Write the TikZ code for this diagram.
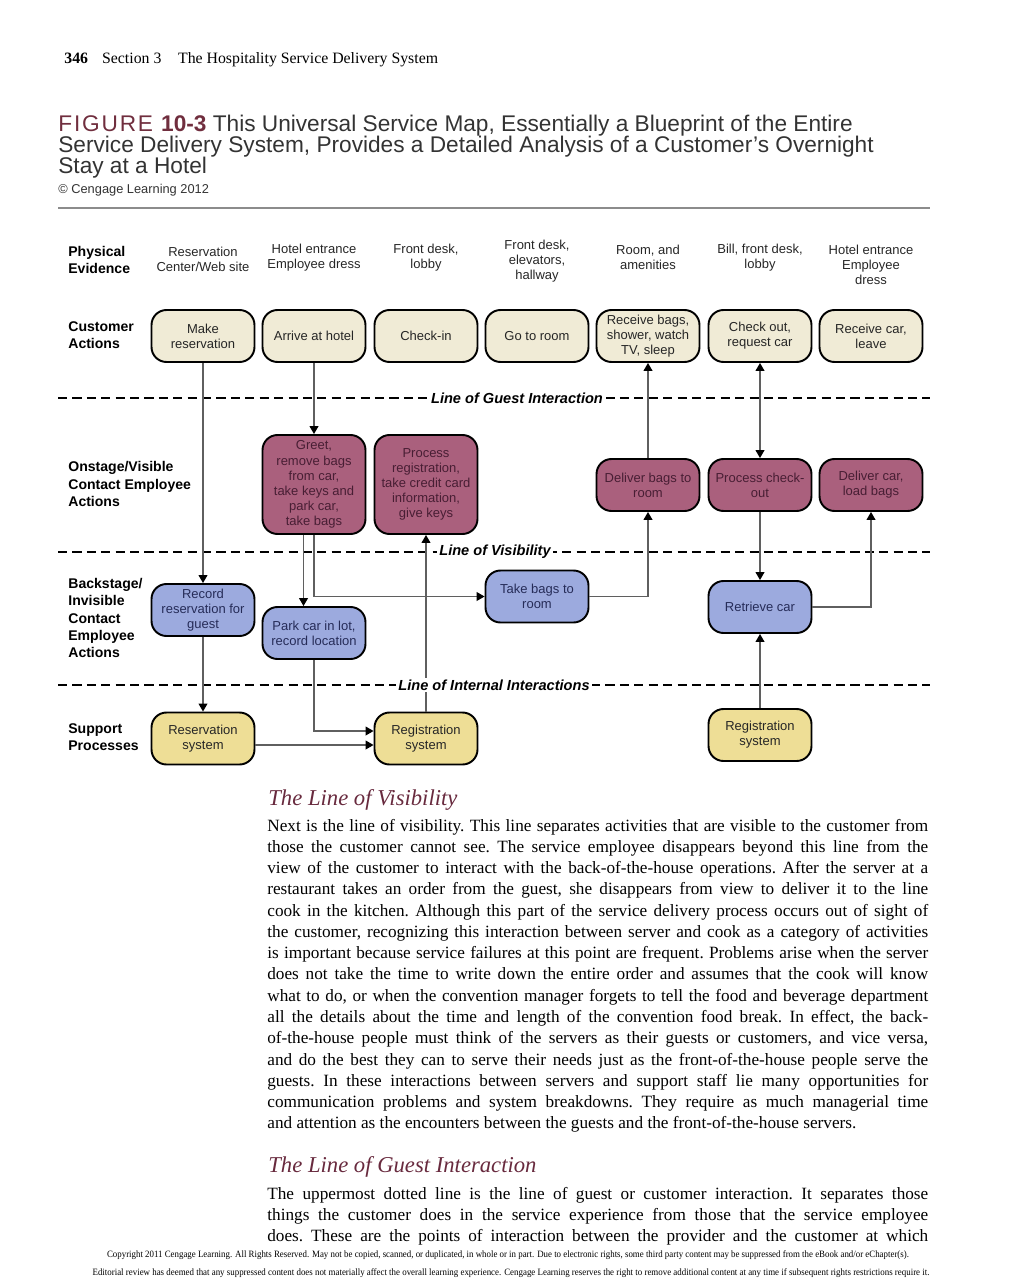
\documentclass[tikz,border=0pt]{standalone}
\usepackage{fontspec}
\setmainfont{Liberation Serif}
\setsansfont{Liberation Sans}
\usepackage{xcolor}
\usepackage{graphicx}
\usetikzlibrary{arrows.meta,positioning}
\definecolor{custcream}{RGB}{240,235,214}
\definecolor{onmauve}{RGB}{170,96,125}
\definecolor{backblue}{RGB}{156,170,222}
\definecolor{suppyellow}{RGB}{238,222,150}
\definecolor{headmaroon}{RGB}{104,42,62}
\definecolor{figmaroon}{RGB}{112,46,62}
\definecolor{linegray}{RGB}{95,95,95}
\definecolor{ontext}{RGB}{72,30,52}
\definecolor{backtext}{RGB}{38,44,88}

\begin{document}
\begin{tikzpicture}[
        x=0.02cm, y=-0.02cm,
        font=\sffamily,
        box/.style={rectangle, rounded corners=0.3cm, draw=black, line width=1.1pt, fill=#1, align=center, inner sep=1pt, minimum width=2.06cm, minimum height=1.04cm, font=\sffamily\fontsize{7.4}{8.6}\selectfont, text=black!85},
        tallbox/.style={box=#1, minimum height=1.98cm},
        rowlabel/.style={anchor=west, align=left, inner sep=0pt, font=\sffamily\bfseries\fontsize{8}{9.7}\selectfont},
        evidence/.style={align=center, inner sep=0pt, font=\sffamily\fontsize{7.4}{8.6}\selectfont, text=black!85},
        sepline/.style={dash pattern=on 5.2pt off 3pt, line width=0.85pt},
        seplabel/.style={fill=white, inner xsep=1.5pt, inner ysep=1pt, font=\sffamily\bfseries\itshape\fontsize{8.3}{10}\selectfont},
        arrow/.style={-{Triangle[length=4.5pt, width=5pt, color=black]}, line width=0.7pt, draw=linegray},
        dblarrow/.style={{Triangle[length=4.5pt, width=5pt, color=black]}-{Triangle[length=4.5pt, width=5pt, color=black]}, line width=0.7pt, draw=linegray},
        caption/.style={anchor=base west, inner sep=0pt, font=\sffamily\fontsize{12.9}{12}\selectfont, text=black!80},
        bodytext/.style={anchor=base west, inner sep=0pt, text width=13.22cm, align=justify, font=\rmfamily\fontsize{9.8}{12.11}\selectfont\frenchspacing},
        subhead/.style={anchor=base west, inner sep=0pt, font=\rmfamily\itshape\fontsize{12.9}{14}\selectfont, text=headmaroon},
        smallprint/.style={inner sep=0pt, font=\rmfamily\fontsize{5.5}{6}\selectfont}
    ]
        \useasboundingbox (0,0) rectangle (1024,1280);

        % running head and figure caption
        \node[anchor=base west, inner sep=0pt, font=\rmfamily\fontsize{9}{11}\selectfont] (runhead) at (64,64) {\textbf{346}\hspace{8pt}Section 3\hspace{9.5pt}The Hospitality Service Delivery System};
        \node[caption] (cap1) at (58,132) {\textcolor{figmaroon}{{\addfontfeature{LetterSpace=8}FIGURE} \textbf{10-3}} This Universal Service Map, Essentially a Blueprint of the Entire};
        \node[caption] (cap2) at (58,153) {Service Delivery System, Provides a Detailed Analysis of a Customer’s Overnight};
        \node[caption] (cap3) at (58,174) {Stay at a Hotel};
        \node[anchor=base west, inner sep=0pt, font=\sffamily\fontsize{7.3}{9}\selectfont, text=black!80] (credit) at (58,194) {© Cengage Learning 2012};
        \draw[black!45, line width=1.2pt] (58,208) -- (930,208);

        % row labels
        \node[rowlabel] (lphys) at (68,259.5) {Physical\\Evidence};
        \node[rowlabel] (lcust) at (68,335.5) {Customer\\Actions};
        \node[rowlabel] (lon) at (68,484) {Onstage/Visible\\Contact Employee\\Actions};
        \node[rowlabel] (lback) at (68,618) {Backstage/\\Invisible\\Contact\\Employee\\Actions};
        \node[rowlabel] (lsupp) at (68,737.5) {Support\\Processes};

        % physical evidence
        \node[evidence] (ev1) at (203,259.5) {Reservation\\Center/Web site};
        \node[evidence] (ev2) at (314,257.5) {Hotel entrance\\Employee dress};
        \node[evidence] (ev3) at (426,257.5) {Front desk,\\lobby};
        \node[evidence] (ev4) at (537,261) {Front desk,\\elevators,\\hallway};
        \node[evidence] (ev5) at (648,257.5) {Room, and\\amenities};
        \node[evidence] (ev6) at (760,257.5) {Bill, front desk,\\lobby};
        \node[evidence] (ev7) at (871,265) {Hotel entrance\\Employee\\dress};

        % customer actions
        \node[box=custcream] (make) at (203,336) {Make\\reservation};
        \node[box=custcream] (arrive) at (314,336) {Arrive at hotel};
        \node[box=custcream] (checkin) at (426,336) {Check-in};
        \node[box=custcream] (goroom) at (537,336) {Go to room};
        \node[box=custcream] (receive) at (648,336) {Receive bags,\\shower, watch\\TV, sleep};
        \node[box=custcream] (checkout) at (760,336) {Check out,\\request car};
        \node[box=custcream] (leave) at (871,336) {Receive car,\\leave};

        % onstage
        \node[tallbox=onmauve, text=ontext] (greet) at (314,484.5) {Greet,\\remove bags\\from car,\\take keys and\\park car,\\take bags};
        \node[tallbox=onmauve, text=ontext] (procreg) at (426,484.5) {Process\\registration,\\take credit card\\information,\\give keys};
        \node[box=onmauve, text=ontext] (deliver) at (648,485) {Deliver bags to\\room};
        \node[box=onmauve, text=ontext] (proccheck) at (760,485) {Process check-\\out};
        \node[box=onmauve, text=ontext] (delcar) at (871,485) {Deliver car,\\load bags};

        % backstage
        \node[box=backblue, text=backtext] (record) at (203,610) {Record\\reservation for\\guest};
        \node[box=backblue, text=backtext] (park) at (314,633) {Park car in lot,\\record location};
        \node[box=backblue, text=backtext] (takebags) at (537,596.5) {Take bags to\\room};
        \node[box=backblue, text=backtext] (retrieve) at (760,607) {Retrieve car};

        % support
        \node[box=suppyellow] (ressys) at (203,738.5) {Reservation\\system};
        \node[box=suppyellow] (regsys) at (426,738.5) {Registration\\system};
        \node[box=suppyellow] (regsys2) at (760,735) {Registration\\system};

        % dividing lines
        \draw[sepline] (58,398) -- (930,398);
        \draw[sepline] (58,552) -- (930,552);
        \draw[sepline] (58,685) -- (930,685);

        % flows
        \draw[arrow] (make) -- (record);
        \draw[arrow] (record) -- (ressys);
        \draw[arrow] (arrive) -- (greet);
        \draw[arrow] ([xshift=-0.21cm]greet.south) -- ([xshift=-0.21cm]park.north);
        \draw[arrow] (greet.south) |- (takebags.west);
        \draw[arrow] (park.south) |- ([yshift=0.15cm]regsys.west);
        \draw[arrow] ([yshift=-0.13cm]ressys.east) -- ([yshift=-0.13cm]regsys.west);
        \draw[arrow] (regsys) -- (procreg);
        \draw[arrow] (takebags.east) -| (deliver.south);
        \draw[arrow] (deliver) -- (receive);
        \draw[dblarrow] (checkout) -- (proccheck);
        \draw[arrow] (proccheck) -- (retrieve);
        \draw[arrow] (retrieve.east) -| (delcar.south);
        \draw[arrow] (regsys2) -- (retrieve);

        \node[seplabel] (guestline) at (517,398) {Line of Guest Interaction};
        \node[seplabel] (visline) at (495,552) {Line of Visibility};
        \node[seplabel] (intline) at (494,685) {Line of Internal Interactions};

        % running text
        \node[subhead] (vishead) at (268,805) {The Line of Visibility};
        \node[bodytext] (vistext) at (267,831) {%
Next is the line of visibility. This line separates activities that are visible to the customer from\linebreak
those the customer cannot see. The service employee disappears beyond this line from the\linebreak
view of the customer to interact with the back-of-the-house operations. After the server at a\linebreak
restaurant takes an order from the guest, she disappears from view to deliver it to the line\linebreak
cook in the kitchen. Although this part of the service delivery process occurs out of sight of\linebreak
the customer, recognizing this interaction between server and cook as a category of activities\linebreak
is important because service failures at this point are frequent. Problems arise when the server\linebreak
does not take the time to write down the entire order and assumes that the cook will know\linebreak
what to do, or when the convention manager forgets to tell the food and beverage department\linebreak
all the details about the time and length of the convention food break. In effect, the back-\linebreak
of-the-house people must think of the servers as their guests or customers, and vice versa,\linebreak
and do the best they can to serve their needs just as the front-of-the-house people serve the\linebreak
guests. In these interactions between servers and support staff lie many opportunities for\linebreak
communication problems and system breakdowns. They require as much managerial time\linebreak
and attention as the encounters between the guests and the front-of-the-house servers.};
        \node[subhead] (guesthead) at (268,1172) {The Line of Guest Interaction};
        \node[bodytext] (guesttext) at (267,1199) {%
The uppermost dotted line is the line of guest or customer interaction. It separates those\linebreak
things the customer does in the service experience from those that the service employee\linebreak
does. These are the points of interaction between the provider and the customer at which\linebreak};

        % footer
        \node[smallprint] (foot1) at (508,1255) {\resizebox{16.04cm}{\height}{Copyright 2011 Cengage Learning. All Rights Reserved. May not be copied, scanned, or duplicated, in whole or in part. Due to electronic rights, some third party content may be suppressed from the eBook and/or eChapter(s).}};
        \node[smallprint] (foot2) at (511,1273) {\resizebox{16.74cm}{\height}{Editorial review has deemed that any suppressed content does not materially affect the overall learning experience. Cengage Learning reserves the right to remove additional content at any time if subsequent rights restrictions require it.}};
    \end{tikzpicture}
\end{document}
